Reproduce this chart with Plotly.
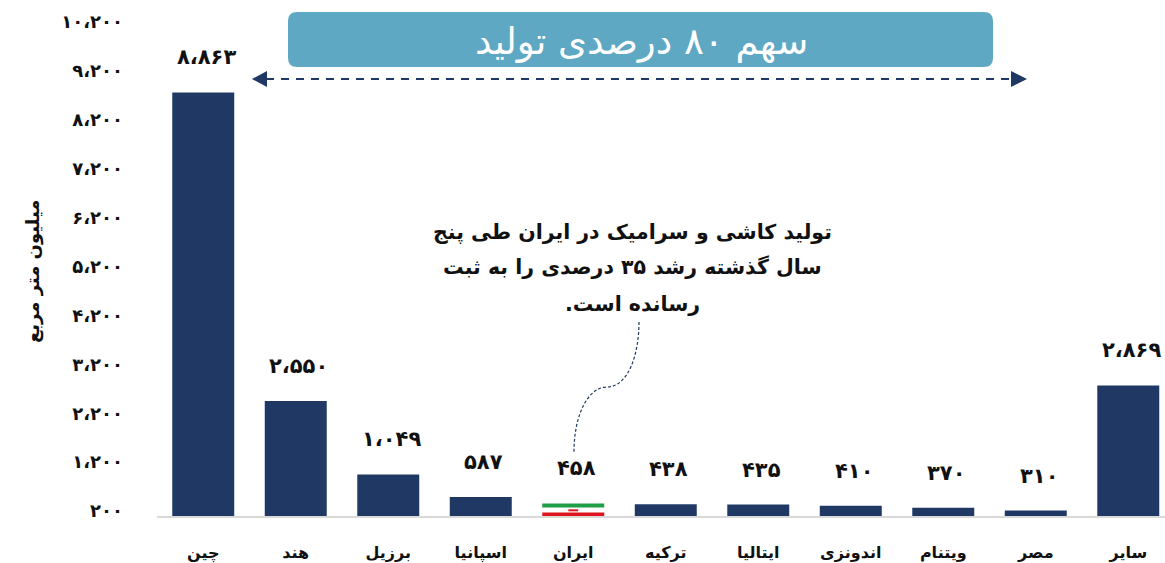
import plotly.graph_objects as go

categories = ["چین", "هند", "برزیل", "اسپانیا", "ایران", "ترکیه", "ایتالیا", "اندونزی", "ویتنام", "مصر", "سایر"]
values = [8863, 2550, 1049, 587, 458, 438, 435, 410, 370, 310, 2869]
value_labels = ["۸،۸۶۳", "۲،۵۵۰", "۱،۰۴۹", "۵۸۷", "۴۵۸", "۴۳۸", "۴۳۵", "۴۱۰", "۳۷۰", "۳۱۰", "۲،۸۶۹"]
tick_values = [200, 1200, 2200, 3200, 4200, 5200, 6200, 7200, 8200, 9200, 10200]
tick_labels = ["۲۰۰", "۱،۲۰۰", "۲،۲۰۰", "۳،۲۰۰", "۴،۲۰۰", "۵،۲۰۰", "۶،۲۰۰", "۷،۲۰۰", "۸،۲۰۰", "۹،۲۰۰", "۱۰،۲۰۰"]
y_title = "میلیون متر مربع"
banner_text = "سهم ۸۰ درصدی تولید"
note_lines = ["تولید کاشی و سرامیک در ایران طی پنج", "سال گذشته رشد ۳۵ درصدی را به ثبت", "رسانده است.\u200f"]

W, H = 1165, 563
L, R, T, B = 157, 0, 12, 47
FONT = "DejaVu Sans"
NAVY = "#1F3864"
BLUE = "#5FA8C3"
INK = "#111111"


def px(x):
    return (x - L) / (W - L - R)


def py(y):
    return 1 - (y - T) / (H - T - B)


def pt(x, y):
    return f"{px(x):.5f} {py(y):.5f}"


per_px = 1000 / 48.9
ymin = 200
ymax = ymin + (H - T - B) * per_px
label_shift = 5 * per_px

iran = categories.index("ایران")
colors = [NAVY] * len(categories)
colors[iran] = "#FFFFFF"

fig = go.Figure()
fig.add_trace(go.Bar(x=categories, y=[v - ymin for v in values], base=ymin, width=0.67,
                     marker=dict(color=colors, line=dict(width=0)), hoverinfo="x+y"))
span = values[iran] - ymin
fig.add_trace(go.Bar(x=[categories[iran]], y=[span * 0.33], base=[ymin + span * 0.67], width=0.67,
                     marker=dict(color="#1E9E46", line=dict(width=0))))
fig.add_trace(go.Bar(x=[categories[iran]], y=[span * 0.27], base=[ymin], width=0.67,
                     marker=dict(color="#E0141E", line=dict(width=0))))
fig.add_trace(go.Scatter(x=[categories[iran]], y=[ymin + span * 0.45], mode="markers",
                         marker=dict(symbol="line-ew", size=7, line=dict(color="#E0141E", width=2)),
                         hoverinfo="skip"))
fig.add_trace(go.Scatter(x=categories[:1], y=[ymin], yaxis="y2", mode="markers",
                         marker=dict(opacity=0, size=1), hoverinfo="skip"))

annotations = [
    dict(x=c, y=v, xshift=3, yshift=35, text=t, showarrow=False, xanchor="center", yanchor="middle",
         font=dict(family=FONT, size=21, color=INK, weight="bold"))
    for c, v, t in zip(categories, values, value_labels)
]
annotations += [
    dict(xref="paper", yref="paper", x=px(641), y=py(41), text=banner_text, showarrow=False,
         xanchor="center", yanchor="middle", font=dict(family=FONT, size=37, color="#FFFFFF")),
    dict(xref="paper", yref="paper", x=px(33), y=py(272), text=y_title, showarrow=False, textangle=-90,
         xanchor="center", yanchor="middle", font=dict(family=FONT, size=18, color=INK, weight="bold")),
]
for line, y in zip(note_lines, [232, 267, 304]):
    annotations.append(dict(xref="paper", yref="paper", x=px(632), y=py(y), text=line, showarrow=False,
                            xanchor="center", yanchor="middle",
                            font=dict(family=FONT, size=20.5, color=INK, weight="bold")))

x0, x1, y0, y1, r = 288, 993, 12, 67, 9
banner = (f"M {pt(x0 + r, y0)} L {pt(x1 - r, y0)} Q {pt(x1, y0)} {pt(x1, y0 + r)} "
          f"L {pt(x1, y1 - r)} Q {pt(x1, y1)} {pt(x1 - r, y1)} L {pt(x0 + r, y1)} "
          f"Q {pt(x0, y1)} {pt(x0, y1 - r)} L {pt(x0, y0 + r)} Q {pt(x0, y0)} {pt(x0 + r, y0)} Z")
connector = (f"M {pt(639, 322)} C {pt(639, 355)} {pt(628, 387)} {pt(607, 387)} "
             f"C {pt(588, 387)} {pt(574, 415)} {pt(574, 452)}")
shapes = [
    dict(type="path", xref="paper", yref="paper", path=banner, fillcolor=BLUE, line=dict(width=0), layer="below"),
    dict(type="line", xref="paper", yref="paper", x0=px(266), x1=px(1012), y0=py(79), y1=py(79),
         line=dict(color=NAVY, width=2, dash="8px,7px")),
    dict(type="path", xref="paper", yref="paper", path=f"M {pt(252, 79)} L {pt(267, 71)} L {pt(267, 87)} Z",
         fillcolor=NAVY, line=dict(width=0)),
    dict(type="path", xref="paper", yref="paper", path=f"M {pt(1027, 79)} L {pt(1011, 71)} L {pt(1011, 87)} Z",
         fillcolor=NAVY, line=dict(width=0)),
    dict(type="path", xref="paper", yref="paper", path=connector,
         line=dict(color=NAVY, width=1.2, dash="3px,2px")),
]

fig.update_layout(
    width=W, height=H, margin=dict(l=L, r=R, t=T, b=B),
    paper_bgcolor="#FFFFFF", plot_bgcolor="#FFFFFF",
    barmode="overlay", showlegend=False, bargap=0.33,
    font=dict(family=FONT, color=INK),
    xaxis=dict(type="category", categoryorder="array", categoryarray=categories,
               range=[-0.5, 10.397], showgrid=False, zeroline=False,
               showline=True, linecolor="#D9D9D9", linewidth=2, ticks="",
               ticklabelstandoff=21, tickfont=dict(family=FONT, size=16, color=INK, weight="bold")),
    yaxis=dict(range=[ymin, ymax], showgrid=False, zeroline=False, showticklabels=False,
               showline=False, ticks=""),
    yaxis2=dict(overlaying="y", side="left", range=[ymin - label_shift, ymax - label_shift],
                tickmode="array", tickvals=tick_values, ticktext=tick_labels,
                showgrid=False, zeroline=False, showline=False, ticks="", ticklabelstandoff=33,
                tickfont=dict(family=FONT, size=18, color=INK, weight="bold")),
    annotations=annotations, shapes=shapes,
)

fig.write_html("out.html", config={"displayModeBar": False},
               post_script="document.body.style.margin='0';document.documentElement.style.overflow='hidden';")
